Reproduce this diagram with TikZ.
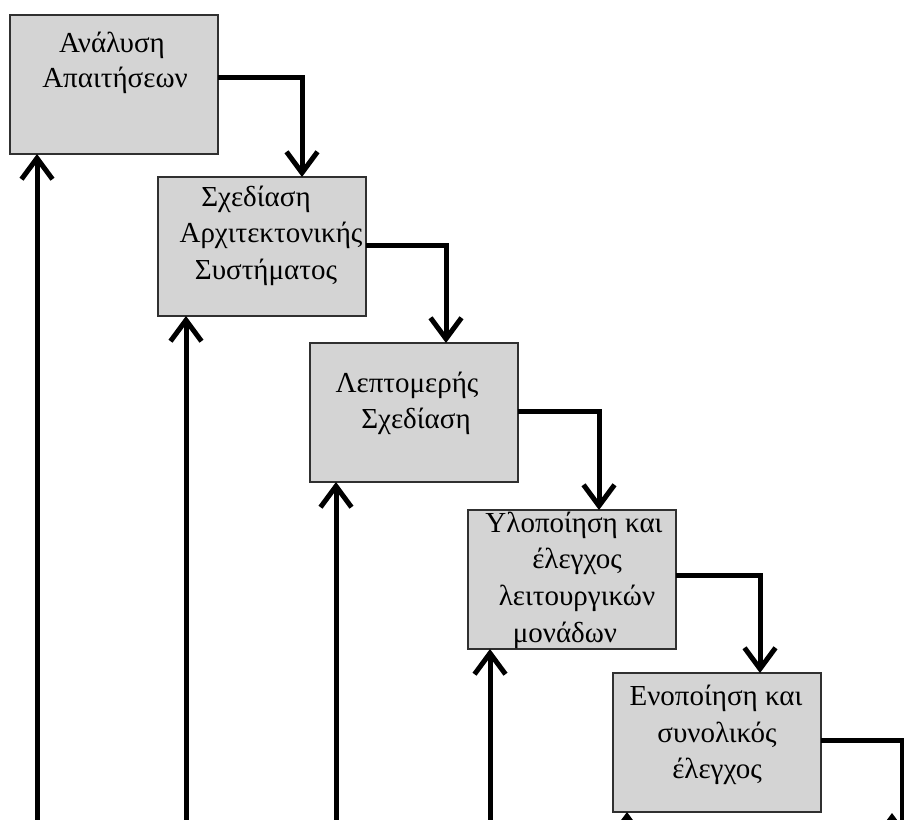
\documentclass[tikz,border=0pt]{standalone}
\usepackage{fontspec}
\setmainfont{Liberation Serif}
\usetikzlibrary{arrows.meta,calc}
\definecolor{boxfill}{HTML}{D4D4D4}
\definecolor{boxline}{HTML}{303030}
\tikzset{
  phase/.style={draw=boxline, fill=boxfill, line width=1.6pt, minimum width=208pt,
    minimum height=139pt, anchor=north west, inner sep=0pt, outer sep=0pt},
  txt/.style={anchor=base, inner sep=0pt, font=\fontsize{29}{36}\selectfont},
  flow/.style={line width=5pt, -{Straight Barb[length=21pt,width=31pt]}},
}
\begin{document}
\begin{tikzpicture}[x=1pt,y=-1pt]
  \useasboundingbox (0,0) rectangle (904,819);
  \clip (0,0) rectangle (904,819);

  % phase boxes
  \node[phase] (b1) at (10,15) {};
  \node[phase] (b2) at (158,177) {};
  \node[phase] (b3) at (310,343) {};
  \node[phase] (b4) at (468,510) {};
  \node[phase] (b5) at (613,673) {};

  % box texts
  \node[txt] (b1l1) at (112,52) {Ανάλυση};
  \node[txt] (b1l2) at (115,87) {Απαιτήσεων};

  \node[txt] (b2l1) at (256,206) {Σχεδίαση};
  \node[txt] (b2l2) at (271,242) {Αρχιτεκτονικής};
  \node[txt] (b2l3) at (266,279) {Συστήματος};

  \node[txt] (b3l1) at (407,392) {Λεπτομερής};
  \node[txt] (b3l2) at (416,428) {Σχεδίαση};

  \node[txt] (b4l1) at (574,532) {Υλοποίηση και};
  \node[txt] (b4l2) at (577,568) {έλεγχος};
  \node[txt] (b4l3) at (577,605) {λειτουργικών};
  \node[txt] (b4l4) at (565,642) {μονάδων};

  \node[txt] (b5l1) at (716,705) {Ενοποίηση και};
  \node[txt] (b5l2) at (717,742) {συνολικός};
  \node[txt] (b5l3) at (717,778) {έλεγχος};

  % forward flow between phases
  \draw[flow] (b1.east |- 0,77) -| (302,0 |- b2.north);
  \draw[flow] (b2.east |- 0,245) -| (446,0 |- b3.north);
  \draw[flow] (b3.east |- 0,411) -| (599,0 |- b4.north);
  \draw[flow] (b4.east |- 0,575) -| (760,0 |- b5.north);
  \coordinate (next) at (902,840);
  \draw[line width=5pt] (b5.east |- 0,740) -| (next);

  % feedback arrows returning from below
  \coordinate (f1) at (37,840);
  \coordinate (f2) at (186,840);
  \coordinate (f3) at (336,840);
  \coordinate (f4) at (490,840);
  \coordinate (f5) at (627,840);
  \coordinate (f6) at (892,840);
  \coordinate (t6) at (892,813);
  \draw[flow] (f1) -- (f1 |- b1.south);
  \draw[flow] (f2) -- (f2 |- b2.south);
  \draw[flow] (f3) -- (f3 |- b3.south);
  \draw[flow] (f4) -- (f4 |- b4.south);
  \draw[flow] (f5) -- (f5 |- b5.south);
  \draw[flow] (f6) -- (t6);
\end{tikzpicture}
\end{document}
